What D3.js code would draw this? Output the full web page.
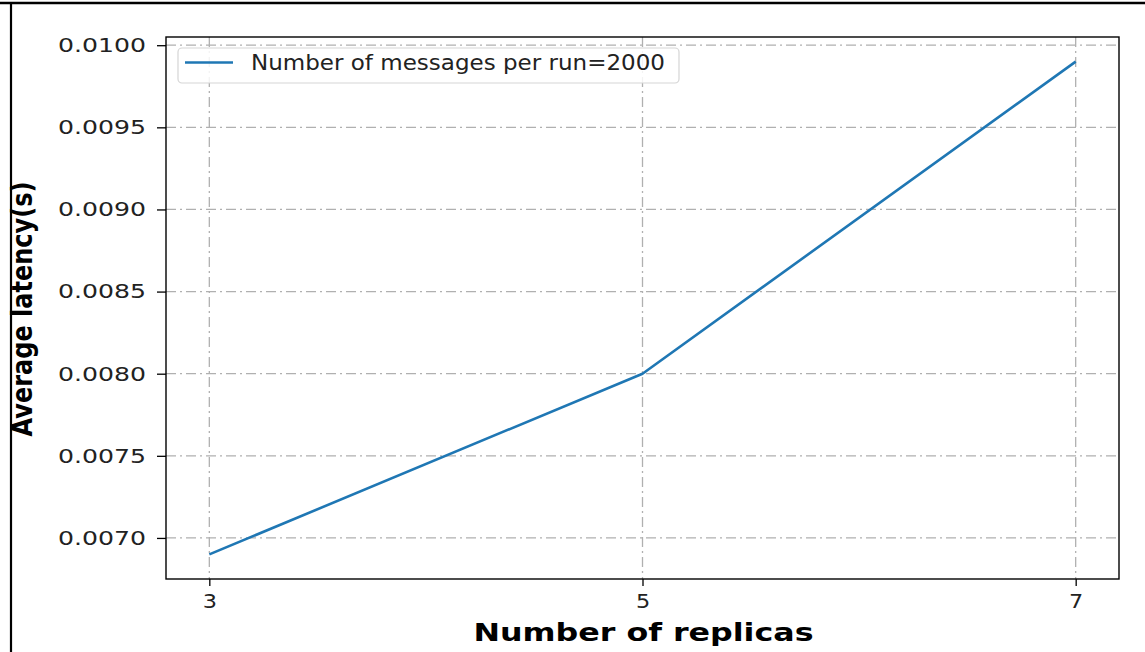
<!DOCTYPE html>
<html>
<head>
<meta charset="utf-8">
<script src="https://cdn.jsdelivr.net/npm/d3@7"></script>
<style>
  html, body { margin: 0; padding: 0; background: #fff; }
  svg { display: block; font-family: "DejaVu Sans", sans-serif; }
</style>
</head>
<body>
<svg id="chart" width="1145" height="652"></svg>
<script>
// ---- data ----
const replicas = [3, 5, 7];
const latency = [0.0069, 0.0080, 0.0099];
const seriesName = "Number of messages per run=2000";
const xTicks = [3, 5, 7];
const yTicks = [0.0070, 0.0075, 0.0080, 0.0085, 0.0090, 0.0095, 0.0100];
const xTitle = "Number of replicas";
const yTitle = "Average latency(s)";

// ---- layout ----
const W = 1145, H = 652;
const plot = { left: 166, top: 37, right: 1119, bottom: 579 };
const svg = d3.select("#chart");

// outer frame (top + left)
svg.append("line").attr("x1", 0).attr("x2", W).attr("y1", 3).attr("y2", 3)
  .attr("stroke", "#000").attr("stroke-width", 2.5);
svg.append("line").attr("x1", 11).attr("x2", 11).attr("y1", 2).attr("y2", H)
  .attr("stroke", "#000").attr("stroke-width", 2.2);

const xPad = (d3.max(replicas) - d3.min(replicas)) * 0.05;
const yPad = (d3.max(latency) - d3.min(latency)) * 0.05;
const x = d3.scaleLinear()
  .domain([d3.min(replicas) - xPad, d3.max(replicas) + xPad])
  .range([plot.left, plot.right]);
const y = d3.scaleLinear()
  .domain([d3.min(latency) - yPad, d3.max(latency) + yPad])
  .range([plot.bottom, plot.top]);

const gridDash = "10,4,2,4";
const grid = svg.append("g");
grid.selectAll(".gx").data(xTicks).join("line")
  .attr("x1", d => x(d)).attr("x2", d => x(d))
  .attr("y1", plot.top).attr("y2", plot.bottom)
  .attr("stroke", "#b0b0b0").attr("stroke-width", 1.3).attr("stroke-dasharray", gridDash);
grid.selectAll(".gy").data(yTicks).join("line")
  .attr("x1", plot.left).attr("x2", plot.right)
  .attr("y1", d => y(d)).attr("y2", d => y(d))
  .attr("stroke", "#b0b0b0").attr("stroke-width", 1.3).attr("stroke-dasharray", gridDash);

// line
svg.append("path")
  .datum(replicas.map((r, i) => [r, latency[i]]))
  .attr("fill", "none").attr("stroke", "#1f77b4").attr("stroke-width", 2.6)
  .attr("stroke-linejoin", "round").attr("stroke-linecap", "butt")
  .attr("d", d3.line().x(d => x(d[0])).y(d => y(d[1])));

// axes frame
svg.append("rect")
  .attr("x", plot.left).attr("y", plot.top)
  .attr("width", plot.right - plot.left).attr("height", plot.bottom - plot.top)
  .attr("fill", "none").attr("stroke", "#000").attr("stroke-width", 1.4);

// axes with d3
const xAxis = d3.axisBottom(x).tickValues(xTicks).tickSize(7).tickPadding(8)
  .tickFormat(d3.format("d"));
const gx = svg.append("g").attr("transform", `translate(0,${plot.bottom})`).call(xAxis);
gx.select(".domain").remove();
gx.selectAll(".tick line").attr("stroke", "#000").attr("stroke-width", 1.3);
gx.selectAll(".tick text").attr("font-size", 20).attr("fill", "#222")
  .attr("font-family", "DejaVu Sans");

const yAxis = d3.axisLeft(y).tickValues(yTicks).tickSize(9).tickPadding(11)
  .tickFormat(d3.format(".4f"));
const gy = svg.append("g").attr("transform", `translate(${plot.left},0)`).call(yAxis);
gy.select(".domain").remove();
gy.selectAll(".tick line").attr("stroke", "#000").attr("stroke-width", 1.3);
gy.selectAll(".tick text").attr("font-size", 20).attr("fill", "#222")
  .attr("font-family", "DejaVu Sans")
  .attr("textLength", 88).attr("lengthAdjust", "spacingAndGlyphs");

// stretch x tick digits slightly
gx.selectAll(".tick text").each(function () {
  const len = this.getComputedTextLength();
  d3.select(this).attr("textLength", len * 1.12).attr("lengthAdjust", "spacingAndGlyphs");
});

// axis titles
svg.append("text")
  .attr("x", (plot.left + plot.right) / 2 + 1).attr("y", 641)
  .attr("text-anchor", "middle").attr("font-size", 24).attr("font-weight", "bold")
  .attr("fill", "#000")
  .attr("textLength", 340).attr("lengthAdjust", "spacingAndGlyphs")
  .text(xTitle);

svg.append("text")
  .attr("transform", `translate(32,${(plot.top + plot.bottom) / 2 + 1}) scale(1.15,1) rotate(-90)`)
  .attr("text-anchor", "middle").attr("font-size", 24).attr("font-weight", "bold")
  .attr("fill", "#000")
  .attr("textLength", 255).attr("lengthAdjust", "spacingAndGlyphs")
  .text(yTitle);

// legend
const lg = svg.append("g");
lg.append("rect")
  .attr("x", 178).attr("y", 48).attr("width", 501).attr("height", 35)
  .attr("rx", 4).attr("ry", 4)
  .attr("fill", "#fff").attr("fill-opacity", 0.85)
  .attr("stroke", "#d5d5d5").attr("stroke-width", 1.2);
lg.append("line")
  .attr("x1", 185).attr("x2", 233).attr("y1", 62.5).attr("y2", 62.5)
  .attr("stroke", "#1f77b4").attr("stroke-width", 2.6);
lg.append("text")
  .attr("x", 251).attr("y", 70).attr("font-size", 20.5).attr("fill", "#222")
  .attr("textLength", 414).attr("lengthAdjust", "spacingAndGlyphs")
  .text(seriesName);
</script>
</body>
</html>
